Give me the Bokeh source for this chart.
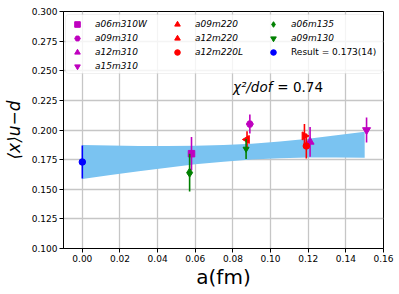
from math import pi
from bokeh.plotting import figure
from bokeh.models import (Range1d, FixedTicker, NumeralTickFormatter, Legend, LegendItem,
                          BoxAnnotation, Label, ColumnDataSource)
from bokeh.embed import file_html
from bokeh.resources import INLINE

# ---------------- data ----------------
# continuum-extrapolation band
band_a = [0.0, 0.015, 0.03, 0.045, 0.06, 0.075, 0.09, 0.105, 0.12, 0.135, 0.15]
band_upper = [0.1873, 0.1869, 0.1866, 0.1865, 0.1867, 0.1873, 0.1885, 0.1903, 0.1927, 0.1955, 0.1986]
band_lower = [0.1587, 0.1620, 0.1652, 0.1682, 0.1710, 0.1733, 0.1751, 0.1761, 0.1767, 0.1768, 0.1766]

# ensembles
names = ["a06m310W", "a09m310", "a12m310", "a15m310",
         "a09m220", "a12m220", "a12m220L",
         "a06m135", "a09m130", "Result = 0.173(14)"]
a_vals = [0.058, 0.089, 0.121, 0.151, 0.0875, 0.118, 0.119, 0.057, 0.087, 0.0]
x_vals = [0.180, 0.205, 0.190, 0.200, 0.192, 0.195, 0.1865, 0.164, 0.184, 0.173]
x_errs = [0.014, 0.008, 0.0125, 0.0105, 0.007, 0.010, 0.0105, 0.016, 0.0085, 0.014]

chi2_label = "χ²/dof"
chi2_value = "= 0.74"
x_title = "a(fm)"
y_title = "⟨x⟩u−d"
x_ticks = [0.00, 0.02, 0.04, 0.06, 0.08, 0.10, 0.12, 0.14, 0.16]
y_ticks = [0.100, 0.125, 0.150, 0.175, 0.200, 0.225, 0.250, 0.275, 0.300]

# ---------------- styles ----------------
MAG, RED, GRN, BLU = "#bf00bf", "#ff0000", "#008000", "#0000ff"
colors = [MAG, MAG, MAG, MAG, RED, RED, RED, GRN, GRN, BLU]
markers = ["square", "hex", "triangle", "inverted_triangle",
           "triangle", "triangle", "circle",
           "diamond", "inverted_triangle", "circle"]
angles = [0, 0, 0, 0, pi / 2, -pi / 2, 0, 0, 0, 0]
sizes = [6.5, 7, 8, 8, 8, 8, 6.5, 9, 6, 6.5]
FONT = "DejaVu Sans"

p = figure(width=399, height=294, output_backend="svg", toolbar_location=None,
           x_range=Range1d(-0.01, 0.16), y_range=Range1d(0.100, 0.300),
           min_border_left=63, min_border_right=16, min_border_top=11, min_border_bottom=46)
p.background_fill_color = "white"
p.border_fill_color = "white"
p.outline_line_color = "black"
p.outline_line_width = 1

for ax, ticks, fmt in ((p.xaxis, x_ticks, "0.00"), (p.yaxis, y_ticks, "0.000")):
    ax.ticker = FixedTicker(ticks=ticks)
    ax.formatter = NumeralTickFormatter(format=fmt)
    ax.major_label_text_font = FONT
    ax.major_label_text_font_size = "9px"
    ax.major_label_text_color = "black"
    ax.axis_line_color = "black"
    ax.axis_line_width = 1
    ax.major_tick_line_color = "black"
    ax.major_tick_in = 0
    ax.major_tick_out = 4
    ax.minor_tick_line_color = None
    ax.major_label_standoff = 2
    ax.axis_label_text_font = FONT
    ax.axis_label_text_color = "black"

p.xaxis.axis_label = x_title
p.xaxis.axis_label_text_font_size = "20px"
p.xaxis.axis_label_text_font_style = "normal"
p.xaxis.axis_label_standoff = 0
p.yaxis.axis_label = y_title
p.yaxis.axis_label_text_font_size = "17px"
p.yaxis.axis_label_text_font_style = "italic"
p.yaxis.axis_label_standoff = 5

p.grid.grid_line_color = "#c6c6c6"
p.grid.grid_line_width = 1.3

# band
p.varea(x=band_a, y1=band_lower, y2=band_upper, fill_color="#7ac3f1", fill_alpha=1.0)

# points with error bars
scatter_rs = []
for i in range(len(names)):
    src = ColumnDataSource(dict(a=[a_vals[i]], y=[x_vals[i]],
                                lo=[x_vals[i] - x_errs[i]], hi=[x_vals[i] + x_errs[i]]))
    p.segment(x0="a", y0="lo", x1="a", y1="hi", source=src, line_color=colors[i], line_width=1.6)
    r = p.scatter(x="a", y="y", source=src, marker=markers[i], size=sizes[i], angle=angles[i],
                  fill_color=colors[i], line_color=colors[i])
    scatter_rs.append(r)

# legend frame
p.add_layout(BoxAnnotation(left=2, right=319, bottom=175, top=234,
                           left_units="screen", right_units="screen",
                           bottom_units="screen", top_units="screen",
                           fill_color="white", fill_alpha=0.8,
                           line_color="#cccccc", line_width=1, border_radius=3))


def add_legend(idx, x, y, style):
    items = [LegendItem(label=names[i], renderers=[scatter_rs[i]]) for i in idx]
    lg = Legend(items=items, location=(x, y), orientation="vertical",
                glyph_width=18, glyph_height=14, spacing=0, padding=0, margin=0,
                label_standoff=9, label_height=14,
                label_text_font=FONT, label_text_font_size="9px",
                label_text_font_style=style, label_text_color="black",
                background_fill_alpha=0, border_line_alpha=0)
    p.add_layout(lg, "center")


add_legend([0, 1, 2, 3], 5, 175, "italic")
add_legend([4, 5, 6], 105, 189, "italic")
add_legend([7, 8], 201, 203, "italic")
add_legend([9], 201, 189, "normal")

# chi^2 annotation
p.add_layout(Label(x=0.08, y=0.2298, text=chi2_label, text_font=FONT, text_font_size="13.5px",
                   text_font_style="italic", text_color="black"))
p.add_layout(Label(x=0.1036, y=0.2298, text=chi2_value, text_font=FONT, text_font_size="13.5px",
                   text_color="black"))

open("out.html", "w").write(file_html(p, INLINE))
